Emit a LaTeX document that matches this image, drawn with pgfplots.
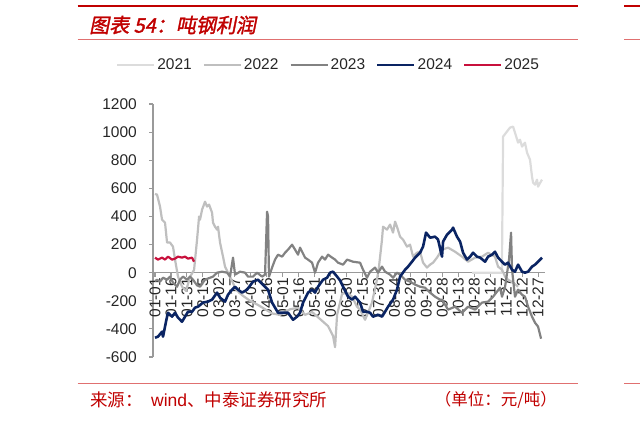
\documentclass[border=0pt]{standalone}
\usepackage{fontspec}
\setmainfont{Liberation Sans}
\newfontfamily\cjk{Noto Sans CJK SC}
\newfontfamily\cjktitle[FakeSlant=0.2,FakeBold=1.5]{Noto Sans CJK SC}
\usepackage{pgfplots}
\pgfplotsset{compat=1.18}

\definecolor{c21}{HTML}{DCDCDC}
\definecolor{c22}{HTML}{BFBFBF}
\definecolor{c23}{HTML}{828282}
\definecolor{c24}{HTML}{0A2463}
\definecolor{c25}{HTML}{C8103C}
\definecolor{zt}{HTML}{C00000}
\definecolor{ztl}{HTML}{E07070}
\definecolor{axg}{HTML}{9A9A9A}

\begin{document}
\begin{tikzpicture}
\useasboundingbox (0,0) rectangle (640pt,421pt);
% frame lines
\draw[zt,line width=2.6pt] (77.5pt,414.8pt) -- (577.5pt,414.8pt);
\draw[ztl,line width=0.9pt] (77.5pt,382pt) -- (577.5pt,382pt);
\draw[ztl,line width=0.9pt] (77.5pt,38pt) -- (577.5pt,38pt);
\draw[zt,line width=2.6pt] (624pt,414.8pt) -- (640pt,414.8pt);
\draw[ztl,line width=0.9pt] (624pt,382pt) -- (640pt,382pt);
\draw[ztl,line width=0.9pt] (624pt,38pt) -- (640pt,38pt);
\node[anchor=west,text=zt,font=\cjktitle\fontsize{20}{20}\selectfont,inner sep=0pt] at (89pt,396pt) {图表 54：吨钢利润};
\node[anchor=west,text=zt,font=\cjk\fontsize{17.5}{17.5}\selectfont,inner sep=0pt] at (90pt,21pt) {来源：};
\node[anchor=west,text=zt,font=\fontsize{17.5}{17.5}\selectfont,inner sep=0pt] at (151pt,21pt) {wind{\cjk 、中泰证券研究所}};
\node[anchor=east,text=zt,font=\cjk\fontsize{16.5}{16.5}\selectfont,inner sep=0pt] at (557pt,21pt) {（单位：元/吨）};

\begin{axis}[
	at={(153pt,64pt)},anchor=south west,
	scale only axis,width=392pt,height=253pt,
	xmin=-1.9,xmax=366.5,ymin=-600,ymax=1200,
	axis x line=middle,axis y line=left,
	axis line style={axg,line width=1.3pt,-},
	tick style={axg,line width=1.1pt},
	tick align=outside,major tick length=4pt,
	ytick={-600,-400,...,1200},
	xtick={0,15,...,360},
	xticklabels={01-01,01-16,01-31,02-15,03-02,03-17,04-01,04-16,05-01,05-16,05-31,06-15,06-30,07-15,07-30,08-14,08-29,09-13,09-28,10-13,10-28,11-12,11-27,12-12,12-27},
	xticklabel style={rotate=90,anchor=east,inner sep=1pt,font=\fontsize{15.5}{15.5}\selectfont,text=black!85},
	yticklabel style={font=\fontsize{15.5}{15.5}\selectfont,text=black!85,inner sep=1pt,xshift=-11pt},
	/pgf/number format/assume math mode=true,
	/pgf/number format/1000 sep={},
	legend style={draw=none,fill=none,at={(0.4477,1.154)},anchor=center,
		font=\fontsize{15.5}{15.5}\selectfont,text=black!85,
		/tikz/every even column/.append style={column sep=9pt}},
	legend columns=5,
	legend image code/.code={\draw[#1] (0pt,0pt) -- (37pt,0pt);},
	every axis plot/.append style={line width=2.2pt,line join=round},
]
\addplot[c21] coordinates {
(298,0) (310,0) (320,0) (326,0) (327.1,968) (333.6,1032) (336.5,1039) (338.3,996)
(341.2,925) (343,946) (344.9,897) (347.7,925) (349.6,854) (352.4,804) (354.3,683)
(355.3,640) (357.1,626) (359,662) (360,612) (362,640) (363.7,662)
};
\addlegendentry{2021}
\addplot[c22] coordinates {
(0,560) (1.9,555) (4.7,470) (6.6,377) (9.4,356) (11.3,214) (14.1,214) (16.9,185)
(18.8,93) (21.6,-28) (25.4,-100) (29.1,-130) (32.9,-30) (36.7,20) (39.5,235)
(41.4,399) (42.3,377) (44.2,448) (47,505) (48.9,470) (50.8,484) (53.6,427)
(54.5,356) (56.4,327) (58.3,306) (59.2,327) (61.1,214) (63.9,114) (65.8,43)
(68.6,0) (72.4,-60) (76.1,-120) (81.8,-160) (89.3,-200) (96.8,-230) (103.4,-260)
(110,-290) (117.5,-300) (126.9,-260) (134.4,-250) (141,-300) (147.6,-280)
(155.1,-330) (162.6,-380) (167.3,-450) (169.2,-530) (171.1,-300) (175.8,-150)
(180.5,-142) (185.2,-171) (189.8,-242) (192.7,-263) (197.4,-335) (200.2,-285)
(203.9,-213) (208.6,-50) (210.5,43) (213.3,235) (214.3,327) (218,306) (220.9,342)
(223.7,285) (225.6,363) (227.4,327) (230.3,256) (233.1,235) (236.8,185)
(239.7,199) (242.5,114) (246.2,142) (249.1,149) (251.9,71) (255.6,36) (258.5,57)
(261.3,71) (265,107) (269.7,164) (275.4,178) (282,149) (288.5,114) (294.2,78)
(300.8,107) (307.3,114) (313,142) (319.5,114) (322.4,43) (326.1,21) (329,-28)
(331.8,-50) (336.5,-71) (341.2,-100)
};
\addlegendentry{2022}
\addplot[c23] coordinates {
(0,-60) (1.9,-50) (4.7,-64) (7.5,-36) (11.3,-50) (14.1,-28) (16.9,-71) (20.7,-100)
(23.5,-50) (26.3,-28) (30.1,-50) (32.9,-28) (35.7,-50) (39.5,-90) (42.3,-100)
(47,-50) (51.7,-36) (54.5,-28) (58.3,0) (63,7) (67.7,0) (70.5,-28) (73.3,107)
(75.2,-14) (79.9,7) (84.6,0) (87.4,-28) (92.1,-28) (95.9,0) (100.6,-28)
(103.4,-14) (105.3,434) (106.2,400) (107.1,-28) (110,36) (112.8,93) (115.6,128)
(119.4,114) (122.2,142) (125,164) (128.8,199) (131.6,164) (134.4,128) (136.3,178)
(141,107) (143.8,93) (147.6,71) (150.4,0) (153.2,71) (157,114) (159.8,93)
(162.6,128) (166.4,107) (169.2,93) (172,71) (176.7,57) (180.5,93) (186.1,78)
(192.7,71) (195.5,21) (199.2,-36) (202.1,7) (206.8,36) (209.6,0) (213.3,43)
(216.2,7) (220.9,-14) (223.7,-36) (227.4,0) (230.3,-14) (235,-50) (239.7,-64)
(244.4,-85) (249.1,-100) (253.8,-107) (258.5,-142) (263.2,-171) (267.9,-192)
(269.7,-192) (275.4,-263) (282,-242) (288.5,-285) (294.2,-242) (300.8,-263)
(307.3,-213) (313,-206) (317.7,-171) (321.4,-135) (324.2,-107) (326.1,-171)
(329,-100) (332.7,93) (334.6,285) (335.5,21) (338.3,-171) (341.2,-121)
(344.9,-157) (347.7,-171) (350.6,-242) (354.3,-313) (357.1,-356) (360,-384)
(362.8,-470)
};
\addlegendentry{2023}
\addplot[c24,line width=2.6pt] coordinates {
(0,-463) (2.8,-455) (6.6,-420) (7.5,-455) (9.4,-384) (11.3,-313) (12.2,-285)
(16,-313) (18.8,-285) (21.6,-320) (25.4,-349) (28.2,-313) (31,-278) (34.8,-278)
(37.6,-249) (40.4,-242) (45.1,-213) (49.8,-206) (53.6,-192) (58.3,-142)
(61.1,-178) (65.8,-206) (68.6,-157) (72.4,-121) (75.2,-100) (78,-121) (81.8,-142)
(86.5,-121) (92.1,-64) (96.8,-50) (100.6,-80) (103.4,-100) (106.2,-121)
(110,-213) (112.8,-249) (115.6,-285) (120.3,-285) (125,-285) (129.7,-335)
(133.5,-313) (136.3,-285) (139.1,-213) (143.8,-142) (147.6,-121) (150.4,-142)
(153.2,-100) (157.9,-50) (161.7,-36) (164.5,0) (167.3,7) (171.1,-28) (173.9,-55)
(176.7,-100) (181.4,-171) (185.2,-192) (188,-171) (192.7,-213) (195.5,-278)
(199.2,-278) (202.1,-285) (204.9,-313) (209.6,-299) (213.3,-313) (216.2,-278)
(219,-242) (223.7,-192) (227.4,-121) (230.3,-28) (235,21) (237.8,43) (241.5,78)
(244.4,107) (249.1,142) (251.9,185) (254.7,285) (258.5,249) (263.2,256)
(266,235) (269.7,114) (270.7,221) (274.4,270) (279.1,306) (280.1,320)
(283.8,256) (286.7,221) (289.5,142) (293.2,93) (296.1,114) (298.9,142)
(302.6,114) (305.5,107) (310.2,78) (313,114) (316.7,128) (319.5,149) (322.4,107)
(326.1,78) (328.9,57) (331.8,71) (335.5,21) (338.3,7) (341.2,57) (344.9,7)
(347.7,0) (350.6,7) (354.3,43) (357.1,57) (360,78) (363.7,107)
};
\addlegendentry{2024}
\addplot[c25] coordinates {
(0,107) (2.8,93) (6.6,107) (9.4,93) (12.2,114) (16,93) (18.8,100) (21.6,114)
(25.4,107) (28.2,114) (31,100) (34.8,107) (36.7,78)
};
\addlegendentry{2025}
\end{axis}
\end{tikzpicture}
\end{document}
